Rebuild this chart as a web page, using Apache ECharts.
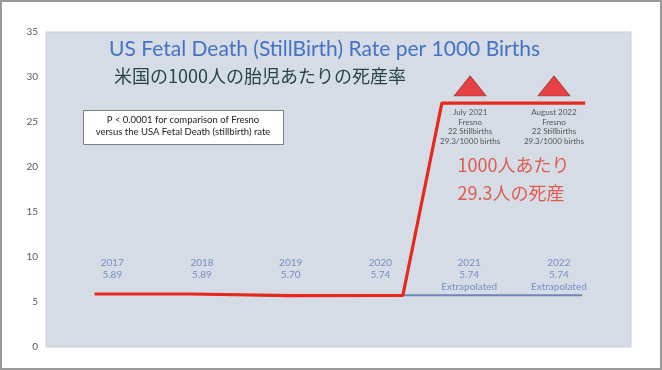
<!DOCTYPE html>
<html><head><meta charset="utf-8">
<script src="https://cdn.jsdelivr.net/npm/echarts@6/dist/echarts.min.js"></script>
<style>
html,body{margin:0;padding:0;background:#fff;}
#wrap{position:relative;width:662px;height:370px;}
#c{width:662px;height:370px;}
#frame{position:absolute;left:0;top:0;width:662px;height:370px;box-sizing:border-box;border:2px solid #9a9a9a;pointer-events:none;}
</style>
</head><body>
<div id="wrap"><div id="c"></div><div id="frame"></div></div>
<script>
// ---- data ----
const years = ['2017','2018','2019','2020','2021','2022'];
const usRate = [5.89, 5.89, 5.70, 5.74, 5.74, 5.74];
const rateText = ['5.89','5.89','5.70','5.74','5.74','5.74'];
const noteText = ['','','','','Extrapolated','Extrapolated'];
const yearLabelX = [0.18, 1.10, 2.01, 2.93, 3.84, 4.76];
const yearLabelY = 10.0;
const fresnoX = [0, 1, 2, 3.16, 3.56, 5.03];
const fresnoY = [5.89, 5.89, 5.70, 5.72, 27.1, 27.1];
const markerX = [3.85, 4.71];
const markerY = 29.0;
const markerText = ['July 2021\nFresno\n22 Stillbirths\n29.3/1000 births','August 2022\nFresno\n22 Stillbirths\n29.3/1000 births'];
const markerTextY = 26.6;
const jpNoteX = 3.72, jpNoteY = 18.6;
const jpNote = '1000人あたり\n29.3人の死産';
const yTicks = {min:0, max:35, interval:5};

const chart = echarts.init(document.getElementById('c'));
const fontEn = 'Lato, "Noto Sans", sans-serif';
const fontJp = '"Noto Sans CJK JP", sans-serif';
chart.setOption({
  animation:false,
  backgroundColor:'#ffffff',
  title:[
    {text:'US Fetal Death (StillBirth) Rate per 1000 Births', left:104, top:34,
     textStyle:{fontFamily:fontEn, fontSize:21, fontWeight:'normal', color:'#4472c4'}},
    {text:'米国の1000人の胎児あたりの死産率', left:109, top:62,
     textStyle:{fontFamily:fontJp, fontSize:18, fontWeight:'normal', color:'#274545'}}
  ],
  graphic:[
    {type:'rect', left:83, top:110, shape:{width:200, height:34}, style:{fill:'#ffffff', stroke:'#7f7f7f', lineWidth:1}, z:10},
    {type:'text', x:183, y:114, style:{text:'P < 0.0001 for comparison of Fresno\nversus the USA Fetal Death (stillbirth) rate', fill:'#222', font:'9.5px Lato, sans-serif', align:'center', verticalAlign:'top', lineHeight:12}, z:11}
  ],
  grid:{left:46, right:31, top:32, bottom:23, show:true, backgroundColor:'#d6dce5', borderColor:'#c7cfdd', borderWidth:1},
  xAxis:{type:'value', min:-0.5, max:5.5, show:false},
  yAxis:{type:'value', min:yTicks.min, max:yTicks.max, interval:yTicks.interval,
    axisLine:{show:false}, axisTick:{show:false}, splitLine:{show:false},
    axisLabel:{color:'#595959', fontSize:10, fontFamily:fontEn, margin:8}},
  series:[
    {type:'line', data:usRate.map((v,i)=>[i,v]), symbol:'none', lineStyle:{color:'#6c86bb', width:2}, z:2},
    {type:'line', data:fresnoX.map((x,i)=>[x,fresnoY[i]]), symbol:'none', lineStyle:{color:'#e8281d', width:3.2}, z:3},
    {type:'scatter', data:markerX.map(x=>[x,markerY]), symbol:'triangle', symbolSize:[32,20],
     itemStyle:{color:'#ec1b1b', borderColor:'#9b2a2a', borderWidth:0.8}, z:4},
    {type:'scatter', data:markerX.map((x,i)=>({value:[x,markerTextY], label:{formatter:markerText[i]}})), symbolSize:0,
     label:{show:true, position:'inside', align:'center', verticalAlign:'top', fontSize:8, lineHeight:9.6, color:'#333', fontFamily:fontEn}, z:5},
    {type:'scatter', data:yearLabelX.map((x,i)=>({value:[x,yearLabelY], label:{formatter: years[i]+'\n'+rateText[i]+(noteText[i]?'\n'+noteText[i]:'')}})), symbolSize:0,
     label:{show:true, position:'inside', align:'center', verticalAlign:'top', fontSize:10, lineHeight:12, color:'#5b7cbd', fontFamily:fontEn}, z:5},
    {type:'scatter', data:[{value:[jpNoteX,jpNoteY], label:{formatter:jpNote}}], symbolSize:0,
     label:{show:true, position:'inside', align:'left', verticalAlign:'middle', fontSize:18, lineHeight:28, color:'#e23a2b', fontFamily:fontJp}, z:5}
  ]
});
</script>
</body></html>
